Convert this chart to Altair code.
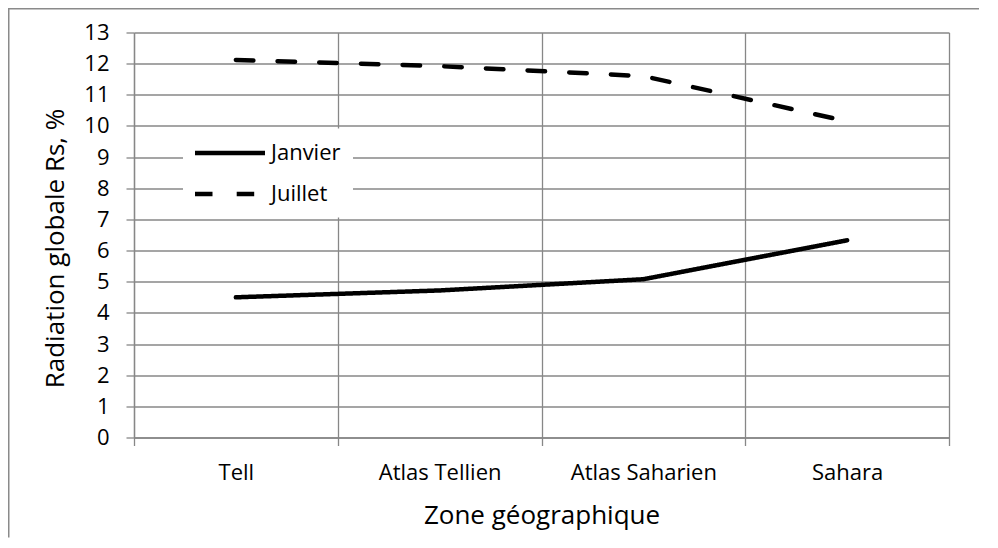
import altair as alt
import pandas as pd

# ---- data ----
zones = ["Tell", "Atlas Tellien", "Atlas Saharien", "Sahara"]
janvier = [4.5, 4.72, 5.08, 6.33]
juillet = [12.12, 11.92, 11.6, 10.15]
series_names = ["Janvier", "Juillet"]
y_ticks = list(range(0, 14))

rows = []
for name, vals in zip(series_names, [janvier, juillet]):
    for z, v in zip(zones, vals):
        rows.append({"zone": z, "value": v, "serie": name})
df = pd.DataFrame(rows)

FONT = "Open Sans"
GRID = "#878787"
W, H = 815, 405
PAD = {"left": 126, "top": 24.5, "right": 30, "bottom": 100}

line = alt.Chart(df).mark_line(
    color="black", strokeWidth=4.5, strokeCap="round", strokeJoin="round"
).encode(
    x=alt.X(
        "zone:N", sort=zones, bandPosition=0.5,
        scale=alt.Scale(type="band", paddingInner=0, paddingOuter=0),
        axis=alt.Axis(
            title="Zone géographique", tickBand="extent",
            grid=True, gridColor=GRID, gridWidth=1.3,
            domainColor=GRID, domainWidth=1.3,
            tickColor=GRID, tickWidth=1.3, tickSize=8,
            labelPadding=17, labelFontSize=22, labelFont=FONT,
            labelColor="black", labelAngle=0,
            titleFont=FONT, titleFontSize=26, titleFontWeight="normal",
            titleColor="black", titleBaseline="alphabetic",
            titleY=86, titleX=W / 2, titleAlign="center",
        ),
    ),
    y=alt.Y(
        "value:Q", scale=alt.Scale(domain=[0, 13], nice=False),
        axis=alt.Axis(
            values=y_ticks, title="Radiation globale Rs, %",
            grid=True, gridColor=GRID, gridWidth=1.3,
            domainColor=GRID, domainWidth=1.3,
            tickColor=GRID, tickWidth=1.3, tickSize=8,
            labelPadding=17, labelFontSize=22, labelFont=FONT,
            labelColor="black",
            titleFont=FONT, titleFontSize=26, titleFontWeight="normal",
            titleColor="black", titleBaseline="alphabetic",
            titleAngle=270, titleX=-71, titleY=215.5, titleAlign="center",
        ),
    ),
    strokeDash=alt.StrokeDash(
        "serie:N",
        scale=alt.Scale(domain=series_names, range=[[1, 0], [17.5, 24.2]]),
        legend=alt.Legend(
            title=None, orient="none", legendX=49, legendY=96,
            fillColor="white", padding=12,
            symbolType="M-1.25,0H5.75", symbolSize=400,
            symbolStrokeWidth=4.5, symbolStrokeColor="black",
            labelFont=FONT, labelFontSize=22, labelColor="black",
            labelOffset=51, rowPadding=17,
        ),
    ),
)

frame_df = pd.DataFrame({"k": [0]})
border_left = alt.Chart(frame_df).mark_rule(color="#8a8a8a", strokeWidth=1.5).encode(
    x=alt.value(-PAD["left"] + 0.75), y=alt.value(-PAD["top"]), y2=alt.value(H + PAD["bottom"])
)
border_top = alt.Chart(frame_df).mark_rule(color="#8a8a8a", strokeWidth=1.5).encode(
    y=alt.value(-PAD["top"] + 0.75), x=alt.value(-PAD["left"]), x2=alt.value(W + PAD["right"])
)

chart = alt.layer(border_left, border_top, line).properties(
    width=W, height=H,
    autosize=alt.AutoSizeParams(type="none"),
    padding=PAD,
    background="white",
).configure_view(strokeWidth=0)

chart.save("out.html", embed_options={"renderer": "svg", "actions": False})
